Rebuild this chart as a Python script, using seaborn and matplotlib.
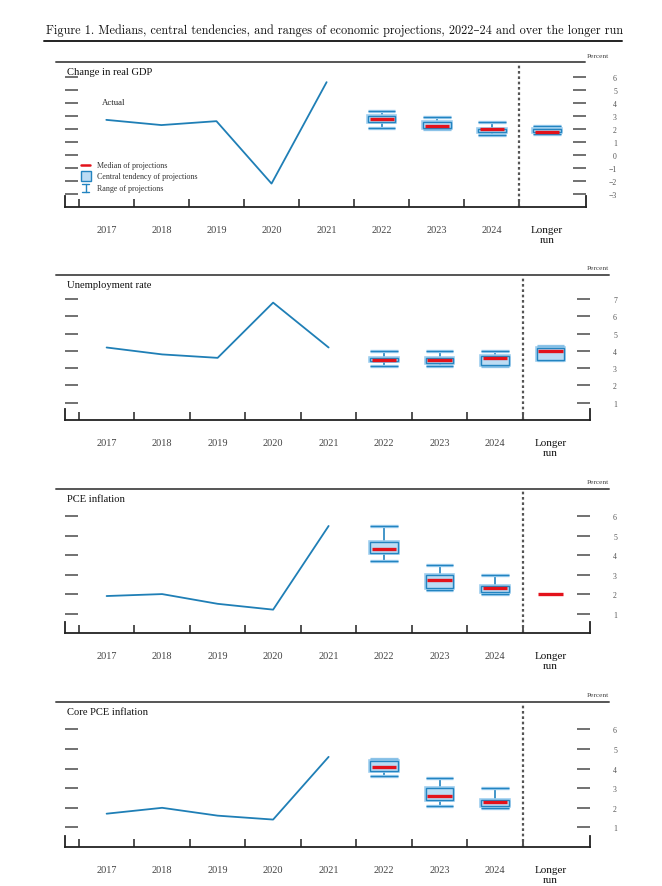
import matplotlib
matplotlib.use('Agg')
import matplotlib.pyplot as plt
import seaborn as sns
from matplotlib.lines import Line2D
from matplotlib.patches import Rectangle

sns.set_style('white')
plt.rcParams['font.family'] = ['Liberation Serif', 'DejaVu Serif']

# Data
years_actual = [2017, 2018, 2019, 2020, 2021]
proj_x = [2022, 2023, 2024, 2025]   # 2025 = "Longer run" slot
x_labels = ['2017', '2018', '2019', '2020', '2021', '2022', '2023', '2024', 'Longer\nrun']

gdp_actual = [2.7, 2.3, 2.6, -2.2, 5.6]
gdp_median = [2.8, 2.2, 2.0, 1.8]
gdp_ct_lo = [2.5, 2.1, 1.8, 1.8]
gdp_ct_hi = [3.0, 2.5, 2.0, 2.0]
gdp_rng_lo = [2.1, 2.0, 1.5, 1.6]
gdp_rng_hi = [3.4, 2.9, 2.5, 2.2]

unemp_actual = [4.2, 3.8, 3.6, 6.8, 4.2]
unemp_median = [3.5, 3.5, 3.6, 4.0]
unemp_ct_lo = [3.4, 3.3, 3.2, 3.5]
unemp_ct_hi = [3.6, 3.6, 3.7, 4.2]
unemp_rng_lo = [3.1, 3.1, 3.1, 3.5]
unemp_rng_hi = [4.0, 4.0, 4.0, 4.3]

pce_actual = [1.9, 2.0, 1.5, 1.2, 5.5]
pce_median = [4.3, 2.7, 2.3, 2.0]
pce_ct_lo = [4.1, 2.3, 2.1, 2.0]
pce_ct_hi = [4.7, 3.0, 2.4, 2.0]
pce_rng_lo = [3.7, 2.2, 2.0, 2.0]
pce_rng_hi = [5.5, 3.5, 3.0, 2.0]

core_actual = [1.7, 2.0, 1.6, 1.4, 4.6]
core_median = [4.1, 2.6, 2.3]
core_ct_lo = [3.9, 2.4, 2.1]
core_ct_hi = [4.4, 3.0, 2.4]
core_rng_lo = [3.6, 2.1, 2.0]
core_rng_hi = [4.5, 3.5, 3.0]

panels = [
    dict(title='Change in real GDP', actual=gdp_actual, med=gdp_median, clo=gdp_ct_lo, chi=gdp_ct_hi,
         rlo=gdp_rng_lo, rhi=gdp_rng_hi, yticks=range(-3, 7), ylim=(-4.0, 7.15),
         top=63, bottom=208, right=586, line_right=585),
    dict(title='Unemployment rate', actual=unemp_actual, med=unemp_median, clo=unemp_ct_lo, chi=unemp_ct_hi,
         rlo=unemp_rng_lo, rhi=unemp_rng_hi, yticks=range(1, 8), ylim=(0, 8.4),
         top=276, bottom=421, right=590, line_right=609),
    dict(title='PCE inflation', actual=pce_actual, med=pce_median, clo=pce_ct_lo, chi=pce_ct_hi,
         rlo=pce_rng_lo, rhi=pce_rng_hi, yticks=range(1, 7), ylim=(0, 7.4),
         top=490, bottom=634, right=590, line_right=609),
    dict(title='Core PCE inflation', actual=core_actual, med=core_median, clo=core_ct_lo, chi=core_ct_hi,
         rlo=core_rng_lo, rhi=core_rng_hi, yticks=range(1, 7), ylim=(0, 7.4),
         top=703, bottom=848, right=590, line_right=609),
]

W, H = 662, 887
line_blue = '#1f7fb6'
box_fill = '#bcdcf4'
box_edge = '#2384c0'
halo = '#9ccdee'
med_red = '#e3121b'
box_w = 0.5

fig = plt.figure(figsize=(W / 100, H / 100), dpi=100)

# Title and rule
fig.text(46 / W, 1 - 31 / H,
         'Figure 1. Medians, central tendencies, and ranges of economic projections, 2022\u201324 and over the longer run',
         fontsize=8.8, family=['cmr10', 'DejaVu Serif'], va='center', ha='left', color='#111')
fig.add_artist(Line2D([44 / W, 622 / W], [1 - 42 / H, 1 - 42 / H], transform=fig.transFigure,
                      color='#222', lw=1.4))

for p in panels:
    left = 65
    ax = fig.add_axes([left / W, 1 - p['bottom'] / H, (p['right'] - left) / W, (p['bottom'] - p['top']) / H])
    ax_h = p['bottom'] - p['top']
    ax.set_xlim(2016.25, 2025.71)
    ax.set_ylim(*p['ylim'])

    # actual history
    sns.lineplot(x=years_actual, y=p['actual'], ax=ax, color=line_blue, lw=1.3)

    # projections
    for i, med in enumerate(p['med']):
        x = proj_x[i]
        lo, hi = p['clo'][i], p['chi'][i]
        rlo, rhi = p['rlo'][i], p['rhi'][i]
        if rhi > rlo:
            ax.vlines(x, rlo, rhi, color=box_edge, lw=1.2, zorder=2)
            ax.hlines([rlo, rhi], x - box_w / 2, x + box_w / 2, color=halo, lw=2.4, zorder=2)
            ax.hlines([rlo, rhi], x - box_w / 2, x + box_w / 2, color=box_edge, lw=0.9, zorder=2)
        if hi > lo:
            ax.bar(x, hi - lo, bottom=lo, width=box_w, color=box_fill, edgecolor=halo, lw=2.6, zorder=3)
            ax.bar(x, hi - lo, bottom=lo, width=box_w, color=box_fill, edgecolor=box_edge, lw=1, zorder=3)
        ax.hlines(med, x - box_w / 2 + 0.03, x + box_w / 2 - 0.03, color=med_red, lw=2.4, zorder=4)

    # divider before longer run
    ax.axvline(2024.5, color='#555', ls=(0, (1.2, 1.2)), lw=1.6, zorder=1)

    # axes styling
    ax.set_yticks(list(p['yticks']))
    ax.set_yticklabels([str(t).replace('-', '\u2212') for t in p['yticks']])
    ax.tick_params(axis='y', left=True, right=True, direction='in', length=9.5, width=1.3,
                   color='#666', labelleft=False, labelright=True, labelsize=5.6,
                   labelcolor='#555', pad=(617 - p['right']) / 1.389)
    for lbl in ax.get_yticklabels():
        lbl.set_ha('right')

    ax.set_xticks([2017, 2018, 2019, 2020, 2021, 2022, 2023, 2024, 2025])
    ax.set_xticklabels(x_labels)
    ax.set_xticks([y + 0.5 for y in range(2016, 2025)], minor=True)
    ax.tick_params(axis='x', which='major', length=0, pad=13, labelsize=7.4, labelcolor='#444')
    ax.tick_params(axis='x', which='minor', bottom=True, direction='in', length=5.5, width=1.2,
                   color='#333')
    lr = ax.get_xticklabels()[-1]
    lr.set_color('#111')
    lr.set_fontsize(8)
    lr.set_linespacing(1.2)

    ax.spines['top'].set_visible(False)
    ax.spines['bottom'].set_color('#222')
    ax.spines['bottom'].set_linewidth(1.3)
    y0, y1 = p['ylim']
    stub = 11 / ax_h * (y1 - y0)
    for s in ['left', 'right']:
        ax.spines[s].set_bounds(y0, y0 + stub)
        ax.spines[s].set_color('#222')
        ax.spines[s].set_linewidth(1.3)

    ax.text(0.004, 1 - 10 / ax_h, p['title'], transform=ax.transAxes, fontsize=7.6,
            va='center', ha='left', color='#111')

    # top rule and unit label
    fig.add_artist(Line2D([56 / W, p['line_right'] / W], [1 - p['top'] / H] * 2,
                          transform=fig.transFigure, color='#555', lw=1.4))
    fig.text(598 / W, 1 - (p['top'] - 7) / H, 'Percent', fontsize=5.3, color='#444',
             ha='center', va='center')

    if p['title'] == 'Change in real GDP':
        ax.text((101.7 - left) / (p['right'] - left), 1 - 40 / ax_h, 'Actual', transform=ax.transAxes,
                fontsize=6.3, color='#222', va='center')
        aw = p['right'] - left
        ax.plot([16 / aw, 25 / aw], [1 - 103 / ax_h] * 2, transform=ax.transAxes, color=med_red, lw=1.8)
        ax.add_patch(Rectangle((16 / aw, 1 - 119 / ax_h), 10 / aw, 10 / ax_h, transform=ax.transAxes,
                               facecolor=box_fill, edgecolor=box_edge, lw=1))
        ax.plot([20.5 / aw, 20.5 / aw], [1 - 122 / ax_h, 1 - 130 / ax_h], transform=ax.transAxes,
                color=box_edge, lw=1)
        ax.plot([17 / aw, 24 / aw], [1 - 122 / ax_h] * 2, transform=ax.transAxes, color=box_edge, lw=1)
        ax.plot([17 / aw, 24 / aw], [1 - 130 / ax_h] * 2, transform=ax.transAxes, color=box_edge, lw=1)
        for k, txt in enumerate(['Median of projections', 'Central tendency of projections',
                                 'Range of projections']):
            ax.text(32 / aw, 1 - (103 + 11.5 * k) / ax_h, txt, transform=ax.transAxes,
                    fontsize=5.8, color='#333', va='center')

fig.savefig('out.png', dpi=100)
